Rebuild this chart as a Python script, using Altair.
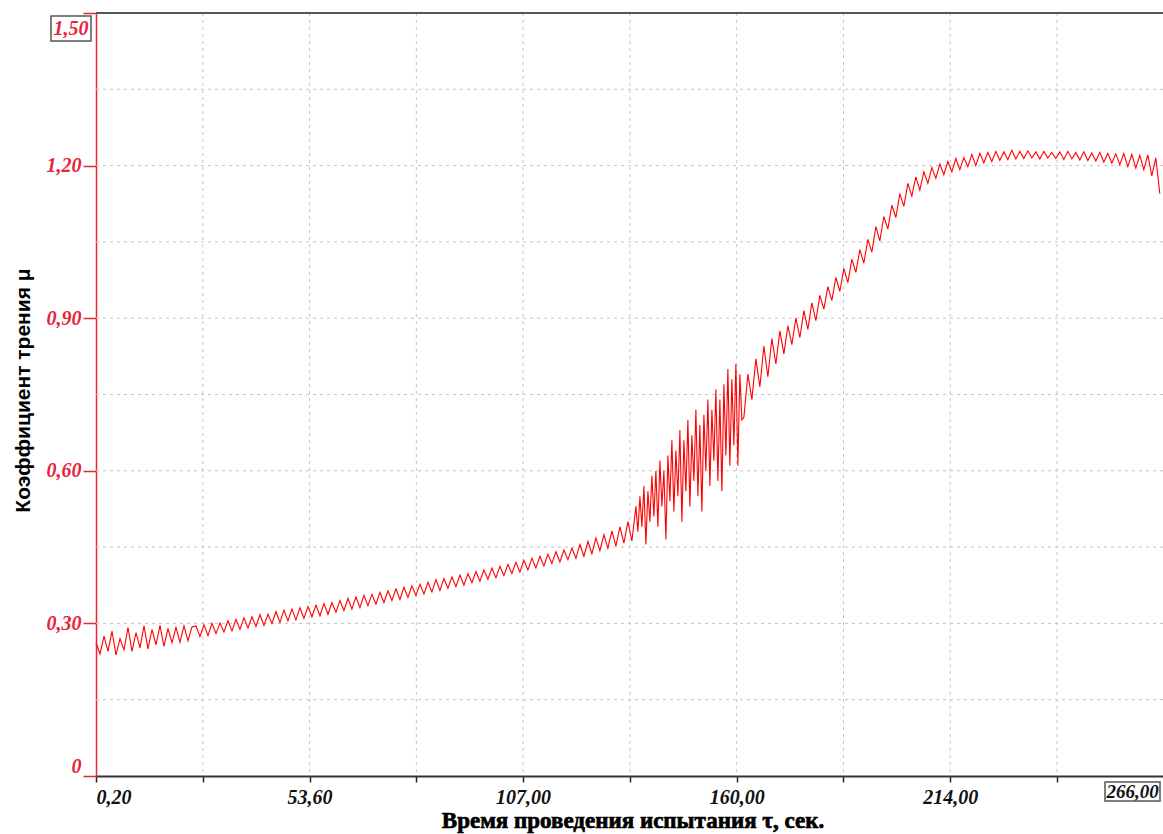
import altair as alt
import pandas as pd

# ---- data (friction coefficient vs time) ----
seg_a = [0.262, 0.240, 0.275, 0.245, 0.285, 0.238, 0.270, 0.248, 0.292, 0.245,
         0.282, 0.252, 0.295, 0.250, 0.288, 0.258, 0.296, 0.255, 0.290, 0.262,
         0.292, 0.263, 0.295, 0.266, 0.293]
seg_b = [0.295, 0.274, 0.297, 0.276, 0.300, 0.280, 0.301, 0.283, 0.305, 0.285,
         0.308, 0.288, 0.311, 0.291, 0.313, 0.294, 0.317, 0.296, 0.318, 0.300,
         0.323, 0.302, 0.326, 0.305, 0.328, 0.307, 0.331, 0.310, 0.333, 0.313,
         0.336, 0.315, 0.339, 0.318, 0.341, 0.322, 0.345, 0.325, 0.349, 0.328,
         0.352, 0.331, 0.355, 0.335, 0.357, 0.338, 0.361, 0.341, 0.364, 0.345,
         0.368, 0.347, 0.371, 0.351, 0.374, 0.355, 0.377, 0.358, 0.381, 0.362,
         0.386, 0.365, 0.388, 0.369, 0.391, 0.372, 0.395, 0.375, 0.398, 0.380,
         0.402, 0.383, 0.405, 0.387, 0.409, 0.390, 0.412, 0.394, 0.416, 0.398,
         0.420, 0.401, 0.424, 0.405, 0.428, 0.409, 0.432, 0.413, 0.436, 0.418,
         0.441, 0.421, 0.444, 0.425, 0.448]
seg_c = [0.428, 0.455, 0.432, 0.461, 0.437, 0.468, 0.443, 0.474, 0.448, 0.482,
         0.452, 0.490, 0.458, 0.500, 0.462]
seg_d = [0.53, 0.48, 0.55, 0.49, 0.57, 0.455, 0.56, 0.50, 0.59, 0.51,
         0.60, 0.49, 0.62, 0.53, 0.60, 0.465, 0.63, 0.54, 0.66, 0.52,
         0.64, 0.55, 0.68, 0.50, 0.66, 0.56, 0.70, 0.53, 0.67, 0.58,
         0.72, 0.55, 0.69, 0.52, 0.71, 0.60, 0.74, 0.57, 0.72, 0.62,
         0.76, 0.58, 0.74, 0.56, 0.77, 0.63, 0.80, 0.61, 0.78, 0.65,
         0.81, 0.61, 0.79, 0.70]
seg_e = [0.705, 0.790, 0.740, 0.820, 0.765, 0.845, 0.785, 0.860, 0.810, 0.875,
         0.830, 0.885, 0.848, 0.900, 0.862, 0.915, 0.878, 0.930, 0.895, 0.945,
         0.918, 0.962, 0.935, 0.980, 0.953, 0.998, 0.970, 1.016, 0.990, 1.035,
         1.008, 1.055, 1.030, 1.080, 1.052, 1.100, 1.075, 1.122, 1.098]
seg_f = [1.145, 1.120, 1.165, 1.140, 1.178, 1.152, 1.188, 1.165, 1.196, 1.175,
         1.203, 1.182, 1.208, 1.188, 1.214, 1.192, 1.216, 1.198, 1.222, 1.200,
         1.224, 1.205, 1.226, 1.208, 1.228, 1.210, 1.227, 1.212, 1.230, 1.213,
         1.228, 1.214, 1.229, 1.215, 1.227, 1.213, 1.228, 1.215, 1.226, 1.214,
         1.227, 1.212, 1.228, 1.213, 1.226, 1.211, 1.227, 1.210, 1.225, 1.209,
         1.226, 1.207, 1.224, 1.205, 1.223, 1.202, 1.224, 1.198, 1.222, 1.195,
         1.220, 1.192, 1.221, 1.180, 1.215, 1.145]

segments = [(0.2, 1.0, seg_a), (25.2, 1.0, seg_b), (120.2, 1.0, seg_c),
            (135.2, 0.5, seg_d), (162.2, 1.0, seg_e), (201.2, 1.0, seg_f)]
rows = []
for start, step, seg in segments:
    for k, v in enumerate(seg):
        rows.append({"t": round(start + k * step, 2), "mu": v})
df = pd.DataFrame(rows)

x_tick_values = [0.2, 26.9, 53.6, 80.3, 107.0, 133.7, 160.4, 187.1, 213.8, 240.5]
x_tick_labels = ["0,20", "", "53,60", "", "107,00", "", "160,00", "", "214,00", ""]
x_grid_values = [26.9, 53.6, 80.3, 107.0, 133.7, 160.4, 187.1, 213.8, 240.5]
y_tick_values = [0, 0.3, 0.6, 0.9, 1.2, 1.5]
y_grid_values = [0.15, 0.3, 0.45, 0.6, 0.75, 0.9, 1.05, 1.2, 1.35]
x_end_label = ["266,00"]
y_top_label = ["1,50"]
x_title = ["Время проведения испытания τ, сек."]
y_title = "Коэффициент трения μ"

RED = "#e8243a"
W, H = 1067, 763

x_expr = " : ".join(
    f"abs(datum.value - {v}) < 0.01 ? '{l}'" for v, l in zip(x_tick_values, x_tick_labels)
) + " : ''"
y_expr = ("datum.value > 1.49 ? '' : (datum.value == 0 ? '0' : "
          "replace(format(datum.value, '.2f'), '.', ','))")

xscale = alt.Scale(domain=[0.2, 267.0], nice=False, zero=False)
yscale = alt.Scale(domain=[0, 1.5], nice=False, zero=True)

xaxis = alt.Axis(
    values=x_tick_values, labelExpr=x_expr, grid=False,
    labelFont="Liberation Serif", labelFontStyle="italic", labelFontWeight="bold",
    labelFontSize=20, labelColor="#111111", labelFlush=True, labelPadding=5,
    tickSize=6, tickColor="#222222", tickWidth=1.5,
    domainColor="#333333", domainWidth=2, title=None)
yaxis = alt.Axis(
    values=y_tick_values, labelExpr=y_expr, grid=False,
    labelFont="Liberation Serif", labelFontStyle="italic", labelFontWeight="bold",
    labelFontSize=20, labelColor=RED, labelFlush=True, labelPadding=2,
    tickSize=13, tickColor=RED, tickWidth=1.5,
    domainColor=RED, domainWidth=1.5,
    title=y_title,
    titleFont="Liberation Sans", titleFontSize=21, titleFontWeight="bold",
    titleColor="#000000", titleX=-73, titleY=377, titleAngle=270,
    titleBaseline="middle", titleAlign="center")

grid_h = alt.Chart(pd.DataFrame({"g": y_grid_values})).mark_rule(
    color="#c4c4c4", strokeDash=[3, 4], strokeWidth=1
).encode(y=alt.Y("g:Q", scale=yscale, axis=yaxis))

grid_v = alt.Chart(pd.DataFrame({"g": x_grid_values})).mark_rule(
    color="#c4c4c4", strokeDash=[3, 4], strokeWidth=1
).encode(x=alt.X("g:Q", scale=xscale, axis=xaxis))

line = alt.Chart(df).mark_line(color="#ff0000", strokeWidth=1.1).encode(
    x=alt.X("t:Q", scale=xscale, axis=xaxis),
    y=alt.Y("mu:Q", scale=yscale, axis=yaxis),
)

top_border = alt.Chart(pd.DataFrame({"v": [1.5]})).mark_rule(
    color="#555555", strokeWidth=2
).encode(y=alt.Y("v:Q", scale=yscale, axis=yaxis))

box_y = alt.Chart(pd.DataFrame({"s": y_top_label})).mark_rect(
    fill="white", stroke="#555555", strokeWidth=1.5
).encode(x=alt.value(-45), x2=alt.value(-5), y=alt.value(3), y2=alt.value(28))
text_y = alt.Chart(pd.DataFrame({"s": y_top_label})).mark_text(
    font="Liberation Serif", fontStyle="italic", fontWeight="bold", fontSize=20,
    color=RED, align="center", baseline="middle"
).encode(x=alt.value(-25), y=alt.value(16), text="s:N")

box_x = alt.Chart(pd.DataFrame({"s": x_end_label})).mark_rect(
    fill="white", stroke="#555555", strokeWidth=1.5
).encode(x=alt.value(1009), x2=alt.value(1064), y=alt.value(769), y2=alt.value(788))
text_x = alt.Chart(pd.DataFrame({"s": x_end_label})).mark_text(
    font="Liberation Serif", fontStyle="italic", fontWeight="bold", fontSize=19,
    color="#111111", align="center", baseline="middle"
).encode(x=alt.value(1036.5), y=alt.value(779), text="s:N")

xtitle = alt.Chart(pd.DataFrame({"s": x_title})).mark_text(
    font="Liberation Serif", fontWeight="bold", fontSize=23,
    color="#000000", stroke="#000000", strokeWidth=0.7,
    align="center", baseline="middle"
).encode(x=alt.value(537), y=alt.value(808), text="s:N")

chart = alt.layer(
    grid_h, grid_v, line, top_border, box_y, text_y, box_x, text_x, xtitle
).properties(
    width=W, height=H,
    padding={"left": 96, "top": 13, "right": 0, "bottom": 58},
    autosize=alt.AutoSizeParams(type="none"),
).configure_view(stroke=None).configure(background="white")

chart.save("out.html", embed_options={"renderer": "svg", "actions": False})
